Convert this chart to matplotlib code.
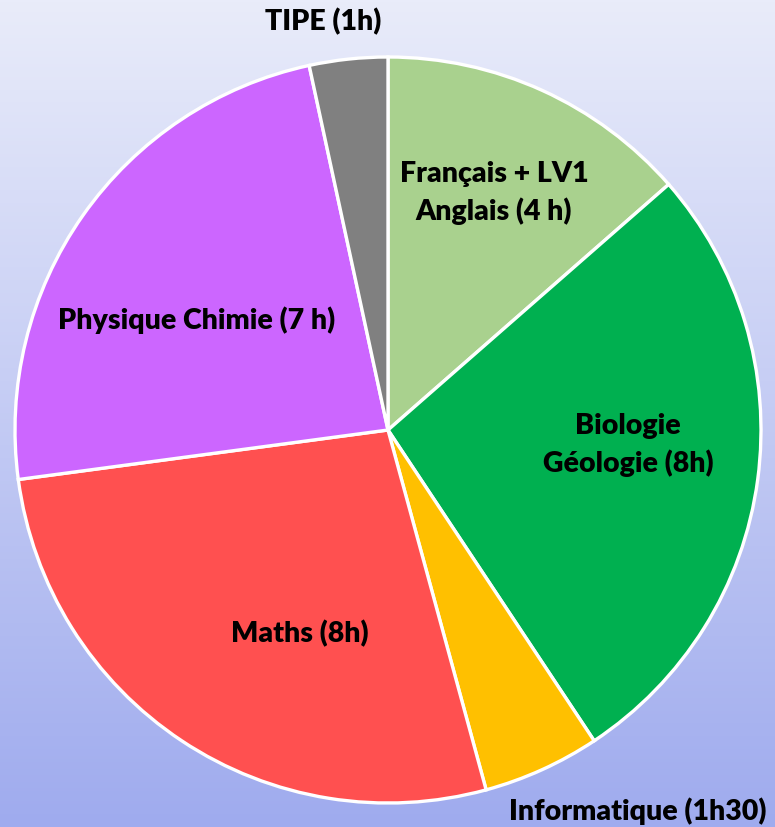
import numpy as np
import matplotlib.pyplot as plt

labels = ['Français + LV1\nAnglais (4 h)', 'Biologie\nGéologie (8h)', 'Informatique (1h30)',
          'Maths (8h)', 'Physique Chimie (7 h)', 'TIPE (1h)']
hours = [4, 8, 1.5, 8, 7, 1]
colors = ['#a9d18e', '#00b050', '#ffc000', '#ff5050', '#cc66ff', '#808080']

# label centres in pixel coords (origin bottom left)
label_pos = [(494, 635), (628, 383), (638, 17), (300, 194), (197, 508), (323, 806)]

W, H = 775, 828
fig = plt.figure(figsize=(W / 100, H / 100), dpi=100)

# background gradient
bg = fig.add_axes([0, 0, 1, 1])
grad = np.linspace(0, 1, 256).reshape(-1, 1)
top = np.array([0xe9, 0xec, 0xfa]) / 255
bot = np.array([0x9f, 0xab, 0xee]) / 255
img = top + (bot - top) * grad[:, :, None]
bg.imshow(img, aspect='auto', extent=[0, 1, 0, 1])
bg.axis('off')

ax = fig.add_axes([0, 0, 1, 1])
ax.patch.set_alpha(0)
ax.pie(hours, colors=colors, startangle=90, counterclock=False,
       center=(388, 397), radius=373,
       wedgeprops=dict(edgecolor='white', linewidth=2.4))
ax.set_xlim(0, W)
ax.set_ylim(0, H)
ax.axis('off')

for lab, (x, y) in zip(labels, label_pos):
    ax.text(x, y, lab, ha='center', va='center', fontsize=20.5, fontweight='heavy',
            family='Lato', linespacing=1.42, color='black')

fig.savefig('out.png', dpi=100)
